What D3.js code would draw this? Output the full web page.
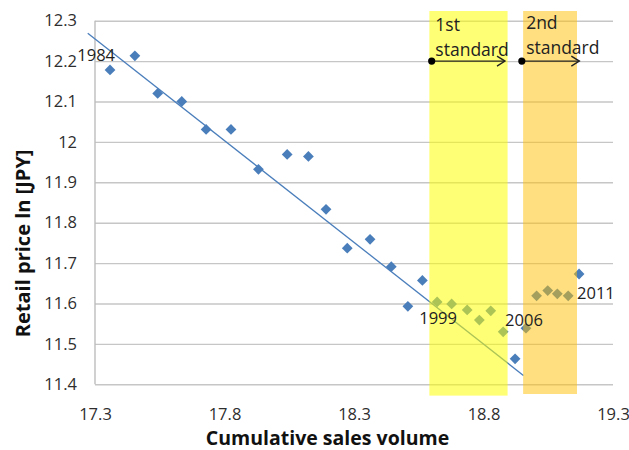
<!DOCTYPE html>
<html>
<head>
<meta charset="utf-8">
<script src="https://cdn.jsdelivr.net/npm/d3@7"></script>
<style>
  html, body { margin: 0; padding: 0; background: #fff; }
  svg { display: block; font-family: "Open Sans", "Noto Sans", sans-serif; }
</style>
</head>
<body>
<svg id="chart" width="629" height="450"></svg>
<script>
// Yearly observations: cumulative sales volume (ln) vs retail price (ln, JPY)
const years = [1984, 1985, 1986, 1987, 1988, 1989, 1990, 1991, 1992, 1993, 1994, 1995, 1996, 1997,
               1998, 1999, 2000, 2001, 2002, 2003, 2004, 2005, 2006, 2007, 2008, 2009, 2010, 2011];
const cumulativeSales = [17.358, 17.454, 17.542, 17.635, 17.729, 17.825, 17.931, 18.042, 18.124, 18.192,
                         18.274, 18.362, 18.444, 18.508, 18.564, 18.621, 18.677, 18.737, 18.784, 18.828,
                         18.876, 18.922, 18.964, 19.005, 19.048, 19.085, 19.127, 19.169];
const retailPrice = [12.178, 12.213, 12.120, 12.100, 12.031, 12.031, 11.932, 11.969, 11.964, 11.833,
                     11.737, 11.759, 11.691, 11.593, 11.657, 11.604, 11.599, 11.584, 11.559, 11.582,
                     11.530, 11.463, 11.539, 11.619, 11.632, 11.624, 11.619, 11.673];
const labelledYears = [1984, 1999, 2006, 2011];

// Linear experience-curve trend (end points)
const trendX = [17.272, 18.954];
const trendY = [12.269, 11.422];

// Regulation periods shown as shaded bands
const standardNames = [["1st", "standard"], ["2nd", "standard"]];
const bandStart = [18.591, 18.953];
const bandEnd = [18.893, 19.161];
const bandTop = [12.324, 12.324];
const bandBottom = [11.372, 11.376];
const arrowStart = [18.600, 18.948];
const arrowEnd = [18.883, 19.170];
const arrowLevel = 12.2;

// Axes
const xTicks = [17.3, 17.8, 18.3, 18.8, 19.3];
const xTickLabels = ["17.3", "17.8", "18.3", "18.8", "19.3"];
const yTicks = [11.4, 11.5, 11.6, 11.7, 11.8, 11.9, 12.0, 12.1, 12.2, 12.3];
const yTickLabels = ["11.4", "11.5", "11.6", "11.7", "11.8", "11.9", "12", "12.1", "12.2", "12.3"];
const xTitle = "Cumulative sales volume";
const yTitle = "Retail price ln [JPY]";

const svg = d3.select("#chart");
const plot = { left: 95, right: 613, top: 20.7, bottom: 384.3 };

const x = d3.scaleLinear().domain([17.3, 19.3]).range([plot.left, plot.right]);
const y = d3.scaleLinear().domain([11.4, 12.3]).range([plot.bottom, plot.top]);

const textColor = "#2e2e2e";
const gridColor = "#c6c6c6";
const blue = "#4a7ebb";

// Horizontal gridlines + y tick labels
const yAxis = d3.axisLeft(y)
  .tickValues(yTicks)
  .tickFormat((d, i) => yTickLabels[i])
  .tickSize(-(plot.right - plot.left))
  .tickPadding(18);
const gy = svg.append("g").attr("transform", `translate(${plot.left},0)`).call(yAxis);
gy.select(".domain").remove();
gy.selectAll(".tick line").attr("stroke", gridColor).attr("stroke-width", 1.4);
gy.selectAll(".tick text")
  .attr("fill", textColor)
  .style("font-size", "16.5px")
  .style("font-family", "'Open Sans', sans-serif");

// Left axis line
svg.append("line")
  .attr("x1", plot.left).attr("x2", plot.left)
  .attr("y1", y(12.3)).attr("y2", y(11.4))
  .attr("stroke", "#bdbdbd").attr("stroke-width", 1.4);

// x tick labels
const xAxis = d3.axisBottom(x)
  .tickValues(xTicks)
  .tickFormat((d, i) => xTickLabels[i])
  .tickSize(0)
  .tickPadding(24);
const gx = svg.append("g").attr("transform", `translate(0,${plot.bottom})`).call(xAxis);
gx.select(".domain").remove();
gx.selectAll(".tick text")
  .attr("fill", textColor)
  .style("font-size", "16.5px")
  .style("font-family", "'Open Sans', sans-serif");

// Trend line
svg.append("line")
  .attr("x1", x(trendX[0])).attr("y1", y(trendY[0]))
  .attr("x2", x(trendX[1])).attr("y2", y(trendY[1]))
  .attr("stroke", blue).attr("stroke-width", 1.3);

// Observations as diamonds
const points = years.map((yr, i) => ({ year: yr, sx: cumulativeSales[i], py: retailPrice[i] }));
const diamond = d3.symbol().type(d3.symbolSquare).size(58);
svg.append("g").selectAll("path")
  .data(points)
  .join("path")
  .attr("d", diamond)
  .attr("transform", d => `translate(${x(d.sx)},${y(d.py)}) rotate(45)`)
  .attr("fill", blue);

// Semi-transparent bands for the two standards (drawn over the data)
const bandFill = ["#ffff00", "#ffbf00"];
const bandOpacity = [0.54, 0.5];
svg.append("g").selectAll("rect")
  .data(bandStart.map((s, i) => ({ s, e: bandEnd[i], t: bandTop[i], b: bandBottom[i], i })))
  .join("rect")
  .attr("x", d => x(d.s))
  .attr("width", d => x(d.e) - x(d.s))
  .attr("y", d => y(d.t))
  .attr("height", d => y(d.b) - y(d.t))
  .attr("fill", d => bandFill[d.i])
  .attr("fill-opacity", d => bandOpacity[d.i]);

// Year labels
const labelOffsets = {
  1984: { dx: 5, dy: -9, anchor: "end" },
  1999: { dx: 1, dy: 22, anchor: "middle" },
  2006: { dx: -2, dy: -2, anchor: "middle" },
  2011: { dx: -2, dy: 25, anchor: "start" }
};
svg.append("g").selectAll("text")
  .data(points.filter(p => labelledYears.includes(p.year)))
  .join("text")
  .attr("x", d => x(d.sx) + labelOffsets[d.year].dx)
  .attr("y", d => y(d.py) + labelOffsets[d.year].dy)
  .attr("text-anchor", d => labelOffsets[d.year].anchor)
  .attr("fill", "#222")
  .style("font-size", "16.5px")
  .text(d => d.year);

// Arrows marking the start of each standard
const arrows = svg.append("g");
arrowStart.forEach((s, i) => {
  const x0 = x(s), x1 = x(arrowEnd[i]), yy = y(arrowLevel);
  arrows.append("line")
    .attr("x1", x0).attr("x2", x1).attr("y1", yy).attr("y2", yy)
    .attr("stroke", "#222").attr("stroke-width", 1.4);
  arrows.append("path")
    .attr("d", `M${x1 - 8},${yy - 5}L${x1},${yy}L${x1 - 8},${yy + 5}`)
    .attr("fill", "none").attr("stroke", "#222").attr("stroke-width", 1.4);
  arrows.append("circle")
    .attr("cx", x0).attr("cy", yy).attr("r", 3.6).attr("fill", "#000");
});

// Standard names
const nameY = [[31, 55.5], [29, 53.5]];
standardNames.forEach((lines, i) => {
  const t = svg.append("text")
    .attr("fill", "#222")
    .style("font-size", "17.5px");
  lines.forEach((ln, j) => {
    t.append("tspan")
      .attr("x", x(bandStart[i]) + (i === 0 ? 6 : 3))
      .attr("y", nameY[i][j])
      .text(ln);
  });
});

// Axis titles
svg.append("text")
  .attr("x", 327.5)
  .attr("y", 445)
  .attr("text-anchor", "middle")
  .attr("fill", "#111")
  .style("font-size", "19.5px")
  .style("font-weight", "bold")
  .text(xTitle);

svg.append("text")
  .attr("transform", `translate(30,${(151.7 + 335) / 2}) rotate(-90)`)
  .attr("text-anchor", "middle")
  .attr("fill", "#111")
  .style("font-size", "20px")
  .style("font-weight", "bold")
  .text(yTitle);
</script>
</body>
</html>
